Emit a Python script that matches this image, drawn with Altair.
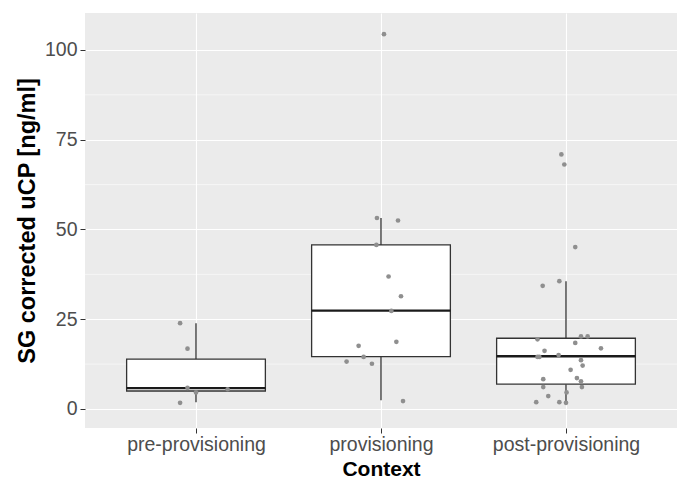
import altair as alt
import pandas as pd

categories = ["pre-provisioning", "provisioning", "post-provisioning"]

pre_values = [23.9, 16.8, 5.9, 4.6, 5.5, 1.7]
pre_jitter = [-0.086, -0.046, -0.046, 0.0, 0.171, -0.086]

prov_values = [104.4, 53.2, 52.5, 45.7, 36.9, 31.4, 27.3, 18.7, 17.6, 14.5, 13.2, 12.6, 2.2]
prov_jitter = [0.016, -0.022, 0.092, -0.025, 0.041, 0.108, 0.056, 0.083, -0.121, -0.094, -0.186, -0.049, 0.119]

post_values = [70.9, 68.1, 45.1, 35.6, 34.3, 19.4, 20.2, 20.2, 18.4, 16.9, 16.2, 15.0, 14.5, 14.5,
               13.6, 12.1, 10.9, 8.3, 8.6, 7.7, 6.1, 6.1, 4.6, 3.6, 1.9, 1.9, 1.7]
post_jitter = [-0.025, -0.009, 0.050, -0.036, -0.126, -0.154, 0.081, 0.117, 0.050, 0.189, -0.116, -0.040,
               -0.154, -0.144, 0.081, 0.090, 0.025, -0.123, 0.059, 0.081, -0.123, 0.086, 0.003, -0.096,
               -0.161, -0.036, 0.0]

box_lower = [1.9, 2.4, 1.7]
box_q1 = [5.0, 14.6, 6.9]
box_median = [5.8, 27.4, 14.7]
box_q3 = [13.9, 45.7, 19.7]
box_upper = [23.9, 53.2, 35.6]

y_ticks = [0, 25, 50, 75, 100]
y_minor = [12.5, 37.5, 62.5, 87.5]
BOX_HALF = 0.375

rows = []
for i, (vals, jit) in enumerate([(pre_values, pre_jitter), (prov_values, prov_jitter), (post_values, post_jitter)]):
    for v, j in zip(vals, jit):
        rows.append({"context": categories[i], "xpos": i + 1 + j, "value": v})
points = pd.DataFrame(rows)

positions = [1, 2, 3]
boxes = pd.DataFrame({
    "context": categories,
    "pos": positions,
    "left": [p - BOX_HALF for p in positions],
    "right": [p + BOX_HALF for p in positions],
    "lower": box_lower,
    "q1": box_q1,
    "median": box_median,
    "q3": box_q3,
    "upper": box_upper,
})

FONT = "Liberation Sans"
xscale = alt.Scale(domain=[0.4, 3.6], nice=False, zero=False)
yscale = alt.Scale(domain=[-5.3, 110.3], nice=False, zero=False)

label_expr = "[" + ",".join("'" + c + "'" for c in categories) + "][datum.value - 1]"

x_axis = alt.Axis(
    values=positions, labelExpr=label_expr, title="Context",
    grid=True, gridColor="white", gridWidth=1.1, domain=False,
    tickColor="#333333", tickSize=5, tickWidth=1,
    labelColor="#4D4D4D", labelFontSize=19.5, labelFont=FONT, labelPadding=2,
    labelFlush=False, labelOverlap=False,
    titleFont=FONT, titleFontSize=21, titleFontWeight="bold", titleColor="black",
    titleX=296, titleY=41.5, titleBaseline="middle", titleAlign="center",
)
y_axis = alt.Axis(
    values=y_ticks, title="SG corrected uCP [ng/ml]",
    grid=True, gridColor="white", gridWidth=1.1, domain=False,
    tickColor="#333333", tickSize=5, tickWidth=1,
    labelColor="#4D4D4D", labelFontSize=19.5, labelFont=FONT, labelPadding=3,
    labelFlush=False, labelOverlap=False,
    titleFont=FONT, titleFontSize=23.5, titleFontWeight="bold", titleColor="black",
    titleX=-58, titleY=207.5, titleBaseline="middle", titleAlign="center", titleAngle=270,
)


def X(field):
    return alt.X(field, scale=xscale, axis=x_axis)


def Y(field):
    return alt.Y(field, scale=yscale, axis=y_axis)


minor = alt.Chart(pd.DataFrame({"m": y_minor})).mark_rule(color="white", strokeWidth=0.55).encode(
    y=Y("m:Q")
)

base = alt.Chart(boxes)
whisk_up = base.mark_rule(color="#333333", strokeWidth=1.3).encode(
    x=X("pos:Q"), y=Y("q3:Q"), y2="upper"
)
whisk_lo = base.mark_rule(color="#333333", strokeWidth=1.3).encode(
    x=X("pos:Q"), y=Y("lower:Q"), y2="q1"
)
box = base.mark_bar(fill="white", stroke="#333333", strokeWidth=1.3).encode(
    x=X("left:Q"), x2="right", y=Y("q1:Q"), y2="q3"
)
med = base.mark_rule(color="#1A1A1A", strokeWidth=2.4).encode(
    x=X("left:Q"), x2="right", y=Y("median:Q")
)
pts = alt.Chart(points).mark_circle(size=22, color="#8F8F8F", opacity=1).encode(
    x=X("xpos:Q"), y=Y("value:Q")
)

chart = alt.layer(minor, whisk_up, whisk_lo, box, med, pts).properties(
    width=592, height=415,
    padding={"left": 85, "top": 13, "right": 5, "bottom": 52},
    autosize=alt.AutoSizeParams(type="none"),
    background="white",
).configure_view(fill="#EBEBEB", strokeWidth=0)

chart.save("out.html", embed_options={"renderer": "svg", "actions": False})
